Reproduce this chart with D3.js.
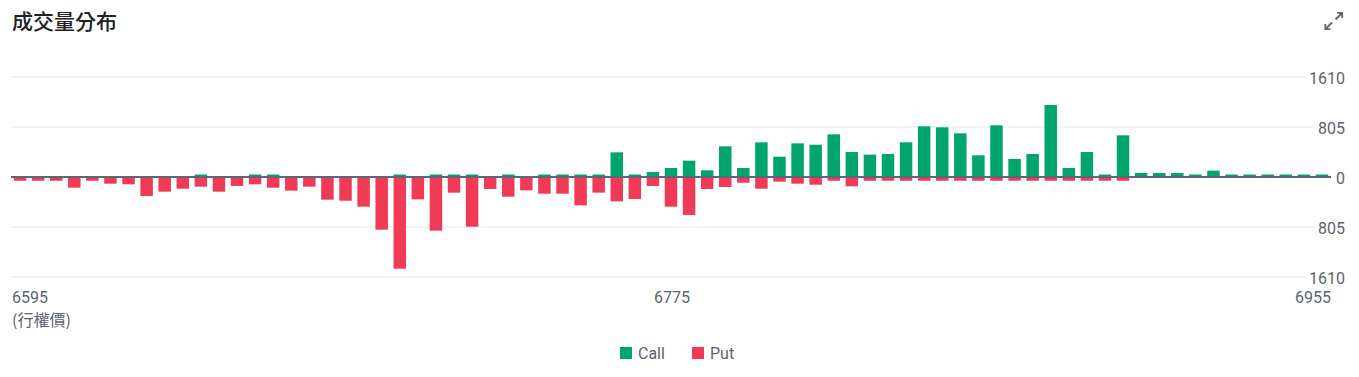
<!DOCTYPE html>
<html>
<head>
<meta charset="utf-8">
<script src="https://cdn.jsdelivr.net/npm/d3@7"></script>
<style>
  html, body { margin: 0; padding: 0; background: #fff; }
  svg { display: block; }
</style>
</head>
<body>
<svg id="chart" width="1359" height="377"></svg>
<script>
const strikes = d3.range(6595, 6956, 5);
const callValues = [
  0, 0, 0, 0, 0, 0, 0, 0, 0, 0,
  40, 0, 0, 40, 40, 0, 0, 0, 0, 0,
  0, 40, 0, 40, 40, 40, 0, 40, 0, 40,
  40, 40, 40, 397, 40, 80, 145, 263, 108, 494,
  145, 558, 327, 542, 520, 687, 402, 360, 370, 558,
  816, 800, 703, 349, 832, 290, 370, 1159, 145, 402,
  40, 671, 64, 64, 64, 40, 102, 40, 40, 40,
  40, 40, 40
];
const putValues = [
  60, 60, 60, 172, 60, 108, 118, 306, 236, 188,
  156, 236, 145, 118, 172, 220, 156, 365, 382, 478,
  848, 1476, 360, 864, 252, 800, 193, 317, 215, 269,
  269, 456, 252, 392, 354, 145, 478, 612, 193, 161,
  92, 188, 75, 108, 124, 60, 150, 60, 60, 60,
  60, 60, 60, 60, 60, 60, 60, 60, 60, 60,
  60, 60, 0, 0, 0, 0, 0, 0, 0, 0,
  0, 0, 0
];
const yTicks = [1610, 805, 0, -805, -1610];
const xTickLabels = ["6595", "6775", "6955"];
const seriesNames = ["Call", "Put"];
const seriesColors = ["#00a56c", "#f03a58"];

(function () {
const svg = d3.select("#chart");
const pLeft = 11, pRight = 1331, pTop = 77, pBottom = 277;

const x = d3.scaleBand().domain(strikes).range([pLeft, pRight]).paddingInner(0.31).paddingOuter(0.155);
const y = d3.scaleLinear().domain([-1610, 1610]).range([pBottom, pTop]);

// Title
svg.append("text")
  .attr("x", 12).attr("y", 29)
  .attr("font-family", "'Noto Sans CJK TC', 'Noto Sans', sans-serif")
  .attr("font-size", 21).attr("font-weight", 500)
  .attr("fill", "#222")
  .text("成交量分布");

// Expand icon
const icon = svg.append("g").attr("stroke", "#666").attr("stroke-width", 1.8).attr("fill", "none");
icon.append("path").attr("d", "M1335.5,19.5 L1342,13 M1337,12.8 L1342.2,12.8 L1342.2,18");
icon.append("path").attr("d", "M1332,22.5 L1325.5,29 M1325.3,24 L1325.3,29.2 L1330.5,29.2");

// Gridlines
svg.append("g").selectAll("line")
  .data(yTicks.filter(d => d !== 0))
  .join("line")
  .attr("x1", pLeft).attr("x2", pRight)
  .attr("y1", d => y(d)).attr("y2", d => y(d))
  .attr("stroke", "#f0f0f0").attr("stroke-width", 1.5);

// Bars
const data = strikes.map((s, i) => ({ s, call: callValues[i], put: putValues[i] }));
svg.append("g").selectAll("rect")
  .data(data.filter(d => d.call > 0))
  .join("rect")
  .attr("x", d => x(d.s)).attr("width", x.bandwidth())
  .attr("y", d => y(d.call)).attr("height", d => y(0) - y(d.call))
  .attr("fill", seriesColors[0]);
svg.append("g").selectAll("rect")
  .data(data.filter(d => d.put > 0))
  .join("rect")
  .attr("x", d => x(d.s)).attr("width", x.bandwidth())
  .attr("y", y(0)).attr("height", d => y(-d.put) - y(0))
  .attr("fill", seriesColors[1]);

// Zero line
svg.append("line")
  .attr("x1", pLeft).attr("x2", pRight)
  .attr("y1", y(0)).attr("y2", y(0))
  .attr("stroke", "#5d6675").attr("stroke-width", 2.2);

// Y axis labels (right), with white halo over gridline ends
svg.append("g").selectAll("text")
  .data(yTicks)
  .join("text")
  .attr("x", 1345).attr("y", d => y(d) + 6.5)
  .attr("text-anchor", "end")
  .attr("font-family", "Roboto, sans-serif")
  .attr("font-size", 16)
  .attr("fill", "#5b6370")
  .attr("stroke", "#fff").attr("stroke-width", 5)
  .attr("paint-order", "stroke")
  .text(d => Math.abs(d));

// X axis labels
const xl = svg.append("g")
  .attr("font-family", "Roboto, sans-serif")
  .attr("font-size", 16)
  .attr("fill", "#5b6370");
xTickLabels.forEach((t, i) => {
  const cx = x(+t) + x.bandwidth() / 2;
  const last = xTickLabels.length - 1;
  const anchor = i === 0 ? "start" : (i === last ? "end" : "middle");
  const xx = i === 0 ? 12 : (i === last ? 1331 : cx + 1);
  xl.append("text").attr("x", xx).attr("y", 303).attr("text-anchor", anchor).text(t);
});
svg.append("text")
  .attr("x", 12).attr("y", 326)
  .attr("font-family", "'Noto Sans CJK TC', Roboto, sans-serif")
  .attr("font-size", 16)
  .attr("fill", "#5b6370")
  .text("(行權價)");

// Legend
const legendX = [620, 692];
const lg = svg.append("g");
seriesNames.forEach((n, i) => {
  lg.append("rect").attr("x", legendX[i]).attr("y", 347).attr("width", 12).attr("height", 12)
    .attr("fill", seriesColors[i]);
  lg.append("text").attr("x", legendX[i] + 18).attr("y", 359)
    .attr("font-family", "Roboto, sans-serif").attr("font-size", 16)
    .attr("fill", "#5b6370").text(n);
});
})();
</script>
</body>
</html>
